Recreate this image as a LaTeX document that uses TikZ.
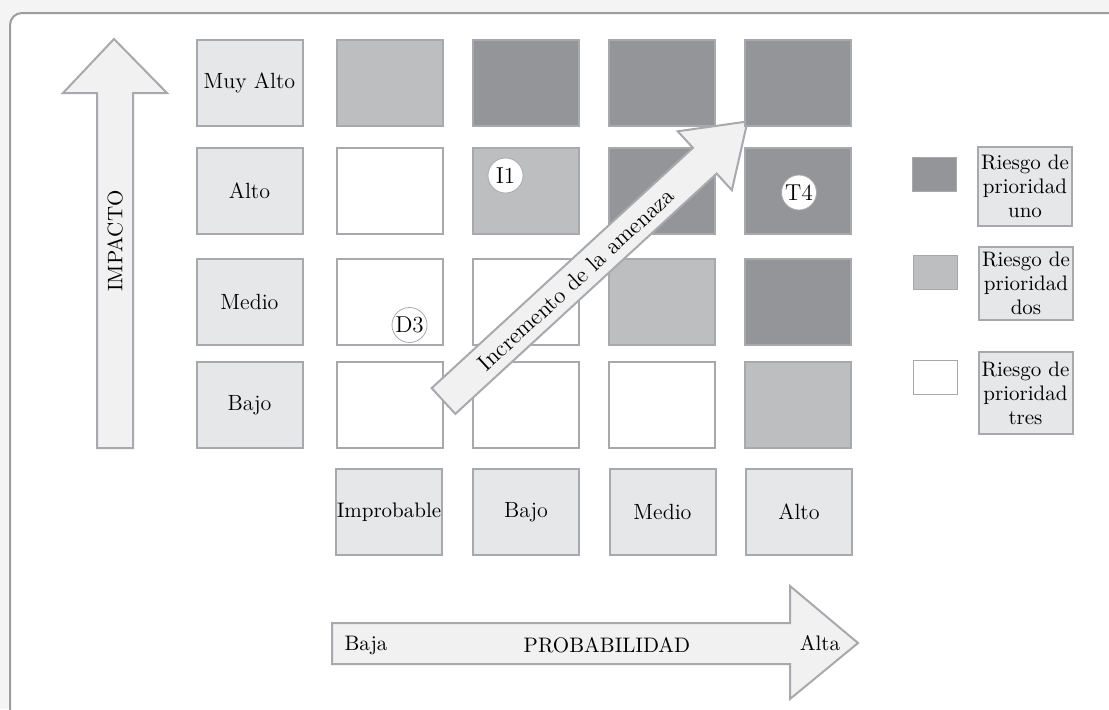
\documentclass[tikz,border=0pt]{standalone}
\usetikzlibrary{positioning}

\definecolor{riskdark}{HTML}{939598}
\definecolor{riskmid}{HTML}{BCBEC0}
\definecolor{boxfill}{HTML}{E6E7E8}
\definecolor{boxline}{HTML}{A7A9AC}
\definecolor{arrowfill}{HTML}{F1F1F2}
\definecolor{pagebg}{HTML}{F4F4F4}
\definecolor{frameline}{HTML}{9D9D9D}

\tikzset{
  cell/.style={draw=boxline, line width=1pt, minimum width=53pt, minimum height=43pt, inner sep=0pt},
  labelbox/.style={cell, fill=boxfill, font=\fontsize{11}{13}\selectfont},
  legendbox/.style={draw=boxline, line width=1pt, fill=boxfill, minimum width=47pt, inner sep=0.5pt, align=center, font=\fontsize{10.5}{12}\selectfont},
  swatch/.style={draw=boxline, line width=0.5pt, minimum width=22pt, minimum height=17pt, inner sep=0pt},
  tag/.style={circle, draw=boxline, line width=0.4pt, fill=white, minimum size=17.5pt, inner sep=0pt, font=\fontsize{11.5}{13}\selectfont},
  bigarrow/.style={draw=boxline, fill=arrowfill, line width=1pt, line join=miter},
  axislabel/.style={font=\fontsize{10.5}{12}\selectfont, inner sep=0pt}
}

\begin{document}
\begin{tikzpicture}[x=0.5pt, y=-0.5pt]
    \useasboundingbox (0,0) rectangle (1109,709);
    \fill[pagebg] (0,0) rectangle (1109,709);
    \draw[frameline, line width=1pt, fill=white, rounded corners=6pt] (10,13) rectangle (1150,750);

    % eje de impacto
    \draw[bigarrow] (97,448) -- (97,93) -- (63,93) -- (114,39) -- (167,93) -- (133,93) -- (133,448) -- cycle;
    \node[axislabel, rotate=90] (impacto) at (115,241) {IMPACTO};

    \foreach \row/\yy/\txt in {1/83/Muy Alto, 2/191/Alto, 3/302/Medio, 4/405/Bajo}
        \node[labelbox] (imp\row) at (249.5,\yy) {\txt};

    % matriz, columnas 1 a 3
    \foreach \row/\yy/\ca/\cb/\cc in {1/83/riskmid/riskdark/riskdark, 2/191/white/riskmid/riskdark,
                                      3/302/white/white/riskmid, 4/405/white/white/white} {
        \node[cell, fill=\ca] (g\row-1) at (390,\yy) {};
        \node[cell, fill=\cb] (g\row-2) at (525.5,\yy) {};
        \node[cell, fill=\cc] (g\row-3) at (661.5,\yy) {};
    }

    % flecha diagonal
    \begin{scope}[shift={(443.5,401)}, rotate=42.6]
        \draw[bigarrow] (0,-17.5) -- (355,-17.5) -- (355,-40) -- (413,0) -- (355,40) -- (355,17.5) -- (0,17.5) -- cycle;
        \node[font=\fontsize{11.5}{13}\selectfont, rotate=42.6] (amenaza) at (180,0) {Incremento de la amenaza};
    \end{scope}

    % matriz, columna 4
    \foreach \row/\yy/\cd in {1/83/riskdark, 2/191/riskdark, 3/302/riskdark, 4/405/riskmid}
        \node[cell, fill=\cd] (g\row-4) at (797.5,\yy) {};

    \node[tag] (i1) at (505.5,175.5) {I1};
    \node[tag] (t4) at (799,192.5) {T4};
    \node[tag] (d3) at (409.5,325) {D3};

    \foreach \col/\xx/\txt in {2/526/Bajo, 3/662.5/Medio, 4/799/Alto}
        \node[labelbox] (prob\col) at (\xx,512) {\txt};
    \node[labelbox, font=\fontsize{10.5}{12}\selectfont] (prob1) at (389,512) {Improbable};

    % eje de probabilidad
    \draw[bigarrow] (332,623) -- (790,623) -- (790,586) -- (858,643) -- (790,699) -- (790,664) -- (332,664) -- cycle;
    \node[axislabel] (baja) at (366,645) {Baja};
    \node[axislabel] (probab) at (607,645) {PROBABILIDAD};
    \node[axislabel] (alta) at (820,643) {Alta};

    % leyenda
    \node[swatch, fill=riskdark] (sw1) at (934.5,174) {};
    \node[swatch, fill=riskmid] (sw2) at (935,272) {};
    \node[swatch, fill=white] (sw3) at (935,377) {};
    \node[legendbox, minimum height=39.5pt] (ley1) at (1025,186.5) {Riesgo de\\prioridad\\uno};
    \node[legendbox, minimum height=36.5pt] (ley2) at (1026,283.5) {Riesgo de\\prioridad\\dos};
    \node[legendbox, minimum height=41pt] (ley3) at (1025.5,393) {Riesgo de\\prioridad\\tres};
\end{tikzpicture}
\end{document}
